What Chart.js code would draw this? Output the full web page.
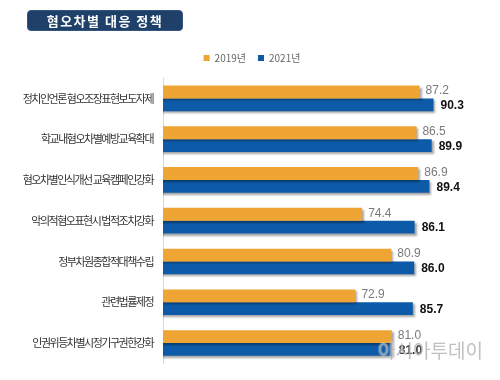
<!DOCTYPE html>
<html>
<head>
<meta charset="utf-8">
<script src="https://cdn.jsdelivr.net/npm/chart.js@4/dist/chart.umd.min.js"></script>
<style>
  body { margin: 0; background: #fff; }
  #wrap { position: relative; width: 500px; height: 380px; }
  #title {
    position: absolute; left: 27px; top: 10px; width: 156px; height: 21px;
    background: #1f4169; border-radius: 4px; border: 1px solid #34567e; box-sizing: border-box;
    color: #fff; font: bold 13px "Noto Sans CJK KR", sans-serif; letter-spacing: 1.5px;
    text-align: center; line-height: 19px;
  }
  #mark {
    position: absolute; left: 378px; top: 336px;
    font: 19px "Noto Sans CJK KR", sans-serif; color: rgba(140,140,140,0.55);
    text-shadow: 0 0 2px #fff;
  }
</style>
</head>
<body>
<div id="wrap">
  <canvas id="policy-chart" width="500" height="380"></canvas>
  <div id="title">혐오차별 대응 정책</div>
  <div id="mark">아시아투데이</div>
</div>
<script>
var categories = [
  '정치인언론 혐오조장표현보도자제',
  '학교내혐오차별예방교육확대',
  '혐오차별인식개선 교육캠페인강화',
  '악의적혐오표현시 법적조치강화',
  '정부차원종합적대책수립',
  '관련법률제정',
  '인권위등차별시정기구권한강화'
];
var values2019 = [87.2, 86.5, 86.9, 74.4, 80.9, 72.9, 81.0];
var values2021 = [90.3, 89.9, 89.4, 86.1, 86.0, 85.7, 81.0];

// squeezed category labels, bar shadow, value text at bar ends
var barExtras = {
  id: 'barExtras',
  afterLayout: function(chart) {
    // legend sits a bit right of centre in the original
    chart.legend.left += 11;
    chart.legend.right += 11;
    var yScale = chart.scales.y;
    if (yScale._squeezed) return;
    var orig = yScale.drawLabels;
    yScale.drawLabels = function(area) {
      this.ctx.letterSpacing = '-1.5px';
      orig.call(this, area);
      this.ctx.letterSpacing = '0px';
    };
    yScale._squeezed = true;
  },
  beforeDatasetsDraw: function(chart) {
    var ctx = chart.ctx;
    ctx.save();
    ctx.shadowColor = 'rgba(0,0,0,0.35)';
    ctx.shadowOffsetX = 2;
    ctx.shadowOffsetY = 2;
    ctx.shadowBlur = 2;
  },
  afterDatasetsDraw: function(chart) {
    var ctx = chart.ctx;
    ctx.restore();
    ctx.save();
    ctx.textBaseline = 'middle';
    ctx.textAlign = 'left';
    chart.data.datasets.forEach(function(ds, i) {
      var meta = chart.getDatasetMeta(i);
      meta.data.forEach(function(bar, j) {
        if (i == 0) {
          ctx.font = '12px "Liberation Sans", sans-serif';
          ctx.fillStyle = '#7a7a7a';
          ctx.fillText(ds.data[j].toFixed(1), bar.x + 6, bar.y - 1);
        } else {
          ctx.font = 'bold 12px "Liberation Sans", sans-serif';
          ctx.fillStyle = '#111';
          ctx.fillText(ds.data[j].toFixed(1), bar.x + 7, bar.y + 1);
        }
      });
    });
    ctx.restore();
  }
};

var ctx = document.getElementById('policy-chart');
var policyChart = new Chart(ctx, {
  type: 'bar',
  data: {
    labels: categories,
    datasets: [
      {label: '2019년', data: values2019, backgroundColor: '#efa534'},
      {label: '2021년', data: values2021, backgroundColor: '#0d5ba8'}
    ]
  },
  options: {
    indexAxis: 'y',
    responsive: false,
    animation: false,
    categoryPercentage: 0.63,
    barPercentage: 1,
    layout: { padding: { top: 41, left: 5, right: 23, bottom: 13 } },
    plugins: {
      title: { display: false },
      tooltip: { enabled: false },
      legend: {
        position: 'top',
        labels: {
          boxWidth: 6, boxHeight: 6, padding: 12,
          color: '#666',
          font: { family: '"Noto Sans CJK KR", sans-serif', size: 10 }
        }
      }
    },
    scales: {
      x: {
        position: 'top', min: 30, max: 100,
        afterFit: function(scale) { scale.height = 5; },
        ticks: { display: false },
        grid: { display: false, drawTicks: false },
        border: { display: false }
      },
      y: {
        afterFit: function(scale) { scale.width = 158; },
        grid: { display: false, drawTicks: false },
        border: { display: true, color: '#d8d8d8' },
        ticks: {
          padding: 10,
          color: '#333',
          font: { family: '"Noto Sans CJK KR", sans-serif', size: 11 }
        }
      }
    }
  },
  plugins: [barExtras]
});
</script>
</body>
</html>
